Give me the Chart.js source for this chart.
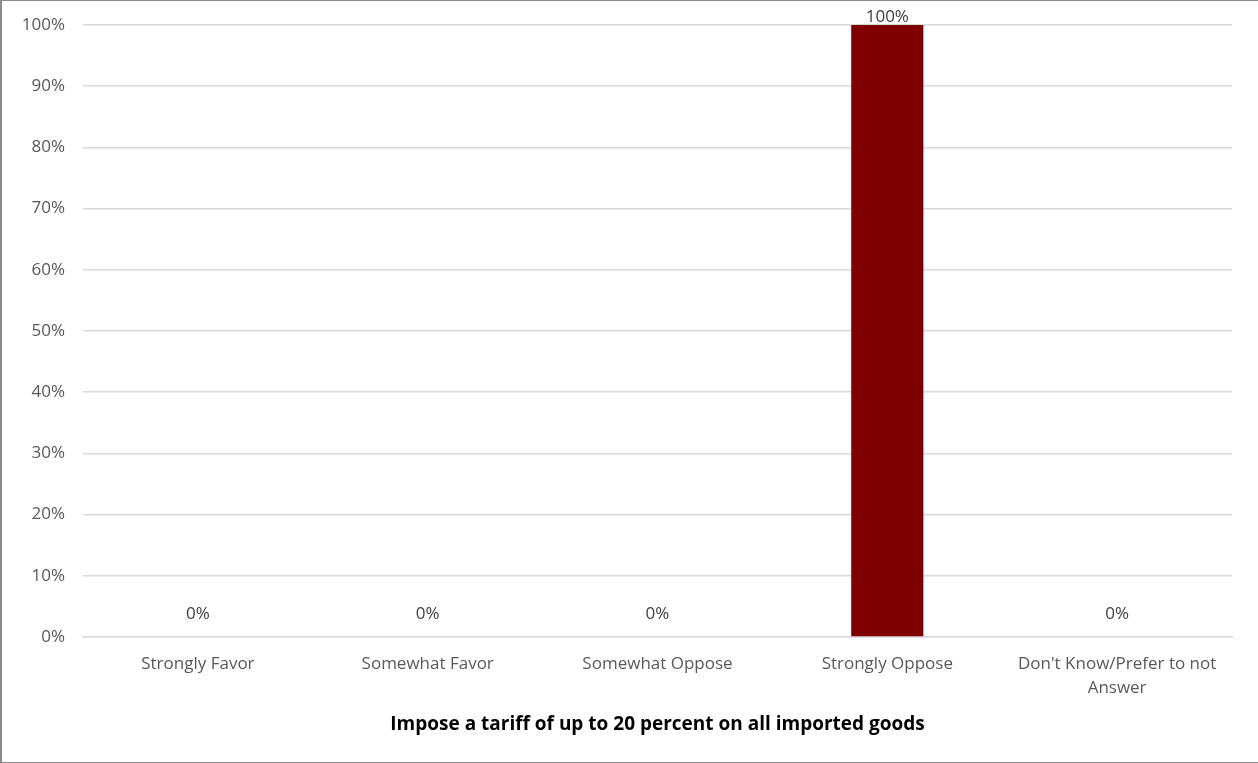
<!DOCTYPE html>
<html>
<head>
<meta charset="utf-8">
<script src="https://cdn.jsdelivr.net/npm/chart.js@4/dist/chart.umd.min.js"></script>
<style>
html,body{margin:0;padding:0;background:#fff;}
#wrap{position:absolute;left:0;top:0;width:1256px;height:761px;border:1px solid #8c8c8c;border-left-width:2px;}
canvas{display:block;}
</style>
</head>
<body>
<div id="wrap"><canvas id="c" width="1254" height="761"></canvas></div>
<script>
const categories = ["Strongly Favor", "Somewhat Favor", "Somewhat Oppose", "Strongly Oppose", ["Don't Know/Prefer to not", "Answer"]];
const values = [0, 0, 0, 100, 0];
const yTicks = [0, 10, 20, 30, 40, 50, 60, 70, 80, 90, 100];
const xTitle = "Impose a tariff of up to 20 percent on all imported goods";

const FONT = "'Open Sans', 'Noto Sans', sans-serif";

const labelPlugin = {
  id: 'valueLabels',
  afterDatasetsDraw(chart) {
    const ctx = chart.ctx;
    const meta = chart.getDatasetMeta(0);
    ctx.save();
    ctx.font = "17px " + FONT;
    ctx.fillStyle = "#404040";
    ctx.textAlign = "center";
    ctx.textBaseline = "middle";
    meta.data.forEach((bar, i) => {
      const y = Math.max(bar.y - 23, chart.chartArea.top - 8);
      ctx.fillText(values[i] + "%", bar.x, y);
    });
    ctx.restore();
  }
};

new Chart(document.getElementById('c'), {
  type: 'bar',
  data: {
    labels: categories,
    datasets: [{
      data: values,
      backgroundColor: '#7f0000',
      borderWidth: 0,
      barPercentage: 0.314,
      categoryPercentage: 1.0
    }]
  },
  options: {
    responsive: false,
    animation: false,
    layout: { autoPadding: false, padding: { top: 24, right: 24, left: 0, bottom: 0 } },
    plugins: { legend: { display: false }, tooltip: { enabled: false } },
    scales: {
      y: {
        min: 0, max: 100,
        afterBuildTicks(scale) { scale.ticks = yTicks.map(v => ({ value: v })); },
        ticks: {
          callback: v => v + "%",
          font: { size: 17, family: FONT },
          color: '#595959',
          padding: 18
        },
        grid: { color: '#d9d9d9', lineWidth: 1.5, drawTicks: false },
        border: { display: false },
        afterFit(scale) { scale.width = 81; scale.paddingTop = 0; scale.paddingBottom = 0; }
      },
      x: {
        ticks: {
          font: { size: 17, family: FONT, lineHeight: 1.4 },
          color: '#595959',
          padding: 15,
          maxRotation: 0,
          autoSkip: false
        },
        grid: { display: false, drawTicks: false },
        border: { display: true, color: '#d9d9d9', width: 1.5 },
        title: {
          display: true,
          text: xTitle,
          font: { size: 19, weight: 'bold', family: FONT },
          color: '#000000',
          padding: { top: 10, bottom: 26 }
        },
        afterFit(scale) { scale.height = 125; }
      }
    }
  },
  plugins: [labelPlugin]
});
</script>
</body>
</html>
